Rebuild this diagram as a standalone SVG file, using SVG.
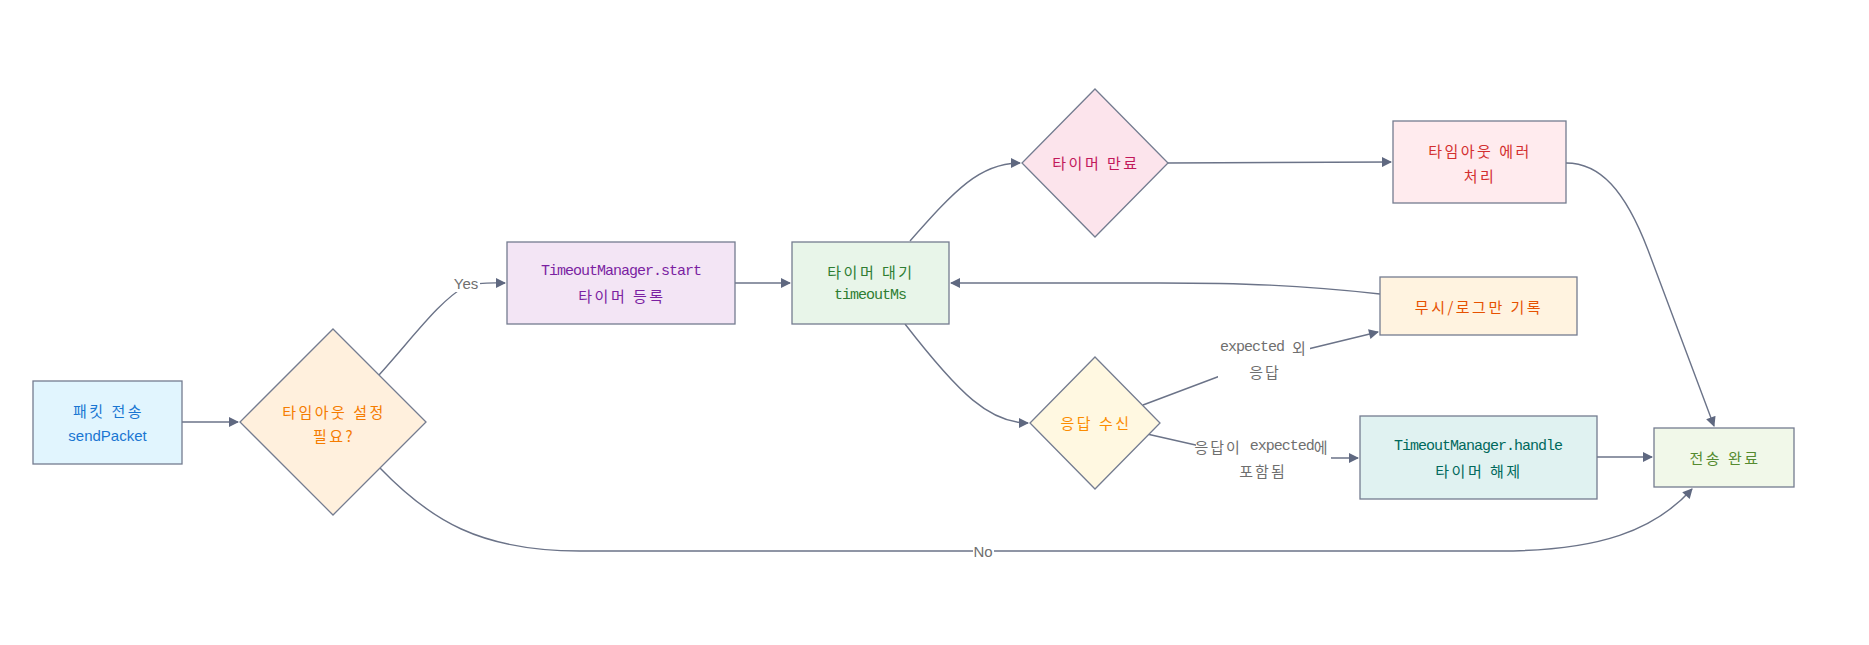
<svg xmlns="http://www.w3.org/2000/svg" width="1869" height="645" viewBox="0 0 1869 645">
<style>
.n{stroke:#747c90;stroke-width:1.3}
.e{fill:none;stroke:#6b7388;stroke-width:1.4}
.t{font-family:"Noto Sans CJK KR","Liberation Sans",sans-serif;font-size:15px;letter-spacing:2.5px;text-anchor:middle;dominant-baseline:central}
.m{font-family:"Liberation Mono","Noto Sans CJK KR",monospace;font-size:15px;letter-spacing:-1px;text-anchor:middle;dominant-baseline:central}
.s{font-family:"Liberation Sans","Noto Sans CJK KR",sans-serif;font-size:15px;letter-spacing:0}
.k{font-family:"Noto Sans CJK KR",sans-serif;font-size:15px;letter-spacing:2px}
.l{fill:#6f6f6f}
.bg{fill:#ffffff}
</style>
<defs>
<marker id="arr" viewBox="0 0 10 10" refX="9" refY="5" markerUnits="userSpaceOnUse" markerWidth="11" markerHeight="10" orient="auto">
<path d="M0,0 L10,5 L0,10 z" fill="#5f6880"/>
</marker>
</defs>
<rect width="1869" height="645" fill="#ffffff"/>
<g id="connectors">
<path class="e" d="M182,422 L238,422" marker-end="url(#arr)"/>
<path class="e" d="M379,375 C415,335 440,300 466,286 C480,282 492,283 505,283" marker-end="url(#arr)"/>
<path class="e" d="M735,283 L790,283" marker-end="url(#arr)"/>
<path class="e" d="M910,241 C955,190 980,163 1020,163" marker-end="url(#arr)"/>
<path class="e" d="M1167,163 L1391,162" marker-end="url(#arr)"/>
<path class="e" d="M1566,163 C1600,163 1625,190 1648,250 L1714,426" marker-end="url(#arr)"/>
<path class="e" d="M1380,294 C1300,285 1240,283 1160,283 L951,283" marker-end="url(#arr)"/>
<path class="e" d="M905,324 C960,395 990,423 1028,423" marker-end="url(#arr)"/>
<path class="e" d="M1143,405 L1220,376 L1308,349 L1378,332" marker-end="url(#arr)"/>
<path class="e" d="M1147,434 L1200,446 L1332,458 L1358,458" marker-end="url(#arr)"/>
<path class="e" d="M1597,457 L1652,457" marker-end="url(#arr)"/>
<path class="e" d="M380,468 C430,520 480,551 580,551 L1500,551 C1600,551 1655,530 1692,489" marker-end="url(#arr)"/>
<g id="edge-labels">
<rect class="bg" x="453" y="275" width="27" height="17"/>
<text class="t s l" x="466" y="283">Yes</text>
<rect class="bg" x="973" y="543" width="21" height="16"/>
<text class="t s l" x="983" y="551">No</text>
<rect class="bg" x="1218" y="336" width="92" height="46"/>
<text class="m l" x="1264" y="347">expected <tspan class="k">외</tspan></text>
<text class="t k l" x="1265" y="371">응답</text>
<rect class="bg" x="1196" y="436" width="135" height="44"/>
<text class="m l" x="1262" y="446"><tspan class="k">응답이</tspan> expected<tspan class="k">에</tspan></text>
<text class="t k l" x="1263" y="470">포함됨</text>
</g>
</g>
<g id="A">
<rect class="n" x="33" y="381" width="149" height="83" fill="#e1f5fe"/>
<text class="t" x="108.5" y="410" fill="#1976d2">패킷 전송</text>
<text class="t s" x="107.5" y="435" fill="#1976d2">sendPacket</text>
</g>
<g id="B">
<polygon class="n" points="333,329 426,422 333,515 240,422" fill="#fff0dd"/>
<text class="t" x="334" y="411" fill="#f57c00">타임아웃 설정</text>
<text class="t" x="334" y="435" fill="#f57c00">필요?</text>
</g>
<g id="C">
<rect class="n" x="507" y="242" width="228" height="82" fill="#f3e5f5"/>
<text class="m" x="621" y="271" fill="#7b1fa2">TimeoutManager.start</text>
<text class="t" x="622" y="295" fill="#7b1fa2">타이머 등록</text>
</g>
<g id="D">
<rect class="n" x="792" y="242" width="157" height="82" fill="#e8f5e9"/>
<text class="t" x="871" y="271" fill="#2e7d32">타이머 대기</text>
<text class="m" x="870" y="295" fill="#2e7d32">timeoutMs</text>
</g>
<g id="E">
<polygon class="n" points="1095,89 1168,163 1095,237 1022,163" fill="#fce4ec"/>
<text class="t" x="1096" y="162" fill="#c2185b">타이머 만료</text>
</g>
<g id="F">
<rect class="n" x="1393" y="121" width="173" height="82" fill="#ffebee"/>
<text class="t" x="1480" y="150" fill="#d32f2f">타임아웃 에러</text>
<text class="t" x="1480" y="175" fill="#d32f2f">처리</text>
</g>
<g id="G">
<rect class="n" x="1380" y="277" width="197" height="58" fill="#fff3e0"/>
<text class="t" x="1479" y="306" fill="#e65100">무시/로그만 기록</text>
</g>
<g id="J">
<polygon class="n" points="1095,357 1160,423 1095,489 1030,423" fill="#fff8e1"/>
<text class="t" x="1096" y="422" fill="#fb8c00">응답 수신</text>
</g>
<g id="H">
<rect class="n" x="1360" y="416" width="237" height="83" fill="#e0f2f1"/>
<text class="m" x="1478" y="446" fill="#00695c">TimeoutManager.handle</text>
<text class="t" x="1479" y="470" fill="#00695c">타이머 해제</text>
</g>
<g id="I">
<rect class="n" x="1654" y="428" width="140" height="59" fill="#f1f8e9"/>
<text class="t" x="1725" y="457" fill="#558b2f">전송 완료</text>
</g>
</svg>
